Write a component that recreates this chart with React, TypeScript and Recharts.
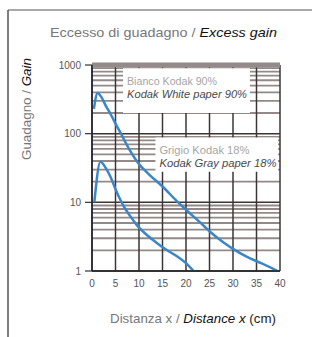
import React from 'react';
import { LineChart, Line, XAxis, YAxis, CartesianGrid, ReferenceArea } from 'recharts';

const whiteX = [0.4, 1.2, 2, 3, 4, 5, 6, 8, 10, 12, 15, 18, 20, 23, 25, 28, 30, 33, 36, 39.5];
const whiteY = [230, 390, 340, 250, 190, 140, 105, 58, 36, 26, 17, 10.5, 7.8, 5.1, 3.8, 2.6, 2.1, 1.6, 1.3, 1];
const grayX = [0.5, 1.8, 3, 4, 5, 6, 7, 8, 9.5, 12, 14, 16, 18, 20, 21.5];
const grayY = [10, 39, 31, 23, 15.5, 11, 8.2, 6.5, 4.7, 3.2, 2.5, 2.0, 1.65, 1.3, 1.02];

const xTicks = [0, 5, 10, 15, 20, 25, 30, 35, 40];
const yTicks = [1, 10, 100, 1000];
const decadeY = [1, 10, 100];
const topY = [1000];
const minorY = [2, 3, 4, 5, 6, 7, 8, 9, 20, 30, 40, 50, 60, 70, 80, 90, 200, 300, 400, 500, 600, 700, 800, 900];

const titleIt = 'Eccesso di guadagno / ';
const titleEn = 'Excess gain';
const xLabelIt = 'Distanza x / ';
const xLabelEn = 'Distance x';
const xLabelUnit = ' (cm)';
const yLabelIt = 'Guadagno / ';
const yLabelEn = 'Gain';

const whiteLabel = ['Bianco Kodak 90%', 'Kodak White paper 90%'];
const grayLabel = ['Grigio Kodak 18%', 'Kodak Gray paper 18%'];
const whiteBox = { x1: 6.6, x2: 33.6, y1: 200, y2: 900 };
const grayBox = { x1: 13.5, x2: 39.6, y1: 28, y2: 88 };

const whiteData = whiteX.map((x, i) => ({ x, y: whiteY[i] }));
const grayData = grayX.map((x, i) => ({ x, y: grayY[i] }));

const FONT = "'Liberation Sans', Arial, sans-serif";

const BoxLabel = (lines: string[], w1: number, w2: number) => (props: any) => {
  const vb = props.viewBox || {};
  const x = vb.x + 4;
  const y = vb.y;
  return (
    <g style={{ fontFamily: FONT, fontSize: 10.5 }}>
      <text x={x} y={y + 17} fill="#a5a5a5" textLength={w1} lengthAdjust="spacingAndGlyphs">{lines[0]}</text>
      <text x={x} y={y + 30} fill="#4a4a4a" fontStyle="italic" textLength={w2} lengthAdjust="spacingAndGlyphs">{lines[1]}</text>
    </g>
  );
};

export default function App() {
  return (
    <div style={{ position: 'absolute', left: 0, top: 0, width: 312, height: 337, background: '#fff' }}>
      <div style={{ position: 'absolute', left: 0, top: 0 }}>
        <LineChart width={312} height={337} margin={{ top: 65, right: 32, bottom: 46, left: 62 }}>
          <CartesianGrid horizontalValues={minorY} vertical={false} stroke="#948989" strokeWidth={1.8} />
          <CartesianGrid horizontalValues={decadeY} verticalValues={xTicks} stroke="#3d3535" strokeWidth={1.5} />
          <CartesianGrid horizontalValues={topY} vertical={false} stroke="#948a8a" strokeWidth={5} />
          <XAxis
            dataKey="x"
            type="number"
            domain={[0, 40]}
            ticks={xTicks}
            interval={0}
            allowDataOverflow
            height={20}
            tickSize={0}
            tickMargin={9}
            axisLine={{ stroke: '#222', strokeWidth: 1.5 }}
            tick={{ fill: '#555', fontSize: 10, fontFamily: FONT }}
          />
          <YAxis
            dataKey="y"
            type="number"
            scale="log"
            domain={[1, 1000]}
            ticks={yTicks}
            interval={0}
            allowDataOverflow
            width={30}
            tickSize={7}
            tickMargin={4}
            axisLine={{ stroke: '#223', strokeWidth: 1.5 }}
            tickLine={{ stroke: '#333', strokeWidth: 1.2 }}
            tick={{ fill: '#555', fontSize: 10, fontFamily: FONT }}
          />
          <ReferenceArea {...whiteBox} fill="#fff" fillOpacity={1} stroke="none" label={BoxLabel(whiteLabel, 90, 120)} />
          <ReferenceArea {...grayBox} fill="#fff" fillOpacity={1} stroke="none" label={BoxLabel(grayLabel, 90, 117)} />
          <Line data={whiteData} dataKey="y" type="monotone" stroke="#3a86c6" strokeWidth={2.5} dot={false} isAnimationActive={false} />
          <Line data={grayData} dataKey="y" type="monotone" stroke="#3a86c6" strokeWidth={2.5} dot={false} isAnimationActive={false} />
        </LineChart>
      </div>
      <svg width={312} height={337} style={{ position: 'absolute', left: 0, top: 0, pointerEvents: 'none' }}>
        <line x1={8} y1={10} x2={8} y2={337} stroke="#555" strokeWidth={1.5} />
        <line x1={8} y1={10} x2={312} y2={10} stroke="#555" strokeWidth={1.2} />
        <text x={50} y={37} fontFamily={FONT} fontSize={13} fill="#777" textLength={227} lengthAdjust="spacingAndGlyphs">
          {titleIt}<tspan fill="#111" fontStyle="italic">{titleEn}</tspan>
        </text>
        <text x={110} y={323} fontFamily={FONT} fontSize={13} fill="#777" textLength={166} lengthAdjust="spacingAndGlyphs">
          {xLabelIt}<tspan fill="#111" fontStyle="italic">{xLabelEn}</tspan><tspan fill="#222">{xLabelUnit}</tspan>
        </text>
        <text x={0} y={0} transform="translate(31,160) rotate(-90)" fontFamily={FONT} fontSize={13} fill="#777" textLength={102} lengthAdjust="spacingAndGlyphs">
          {yLabelIt}<tspan fill="#111" fontStyle="italic">{yLabelEn}</tspan>
        </text>
      </svg>
    </div>
  );
}
